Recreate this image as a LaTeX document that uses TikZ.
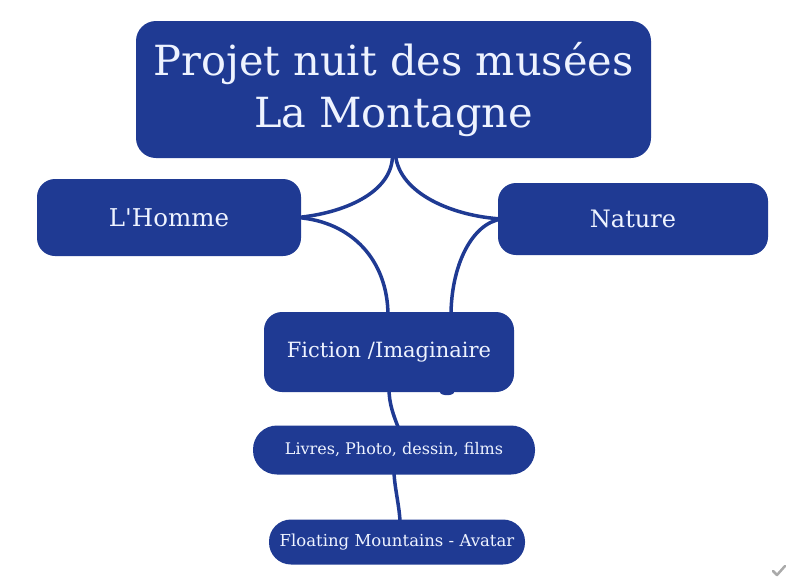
\documentclass[tikz,border=0pt]{standalone}
\usepackage{fontspec}
\setmainfont{DejaVu Serif}
\usetikzlibrary{calc,backgrounds}
\definecolor{boxblue}{RGB}{31,58,147}
\definecolor{boxtext}{RGB}{238,243,255}
\definecolor{checkgray}{RGB}{170,170,170}
\tikzset{
  box/.style={fill=boxblue, text=boxtext, inner sep=0pt, align=center, draw=none},
  conn/.style={draw=boxblue, line width=3.5pt, line cap=round}
}
\begin{document}
\begin{tikzpicture}[x=1pt,y=-1pt]
\useasboundingbox (0,0) rectangle (800,587);
\node[box, rounded corners=20pt, minimum width=515pt, minimum height=137pt,
  font=\fontsize{41.5}{52}\selectfont] (main) at (393.5,89.5) {Projet nuit des musées\\La Montagne};
\node[box, rounded corners=18pt, minimum width=264pt, minimum height=77pt,
  font=\fontsize{24.5}{28}\selectfont] (homme) at (169,217.5) {L{\addfontfeature{Ligatures=TeXOff}'}Homme};
\node[box, rounded corners=18pt, minimum width=270pt, minimum height=72pt,
  font=\fontsize{24}{28}\selectfont] (nature) at (633,219) {Nature};
\node[box, rounded corners=18pt, minimum width=250pt, minimum height=80pt,
  font=\fontsize{21}{24}\selectfont] (fiction) at (389,352) {Fiction /Imaginaire};
\node[box, rounded corners=24pt, minimum width=282pt, minimum height=49pt,
  font=\fontsize{16}{19}\selectfont] (livres) at (394,450) {Livres, Photo, dessin, films};
\node[box, rounded corners=22pt, minimum width=256pt, minimum height=45pt,
  font=\fontsize{16.5}{19}\selectfont] (floating) at (397,542) {Floating Mountains - Avatar};
\begin{scope}[on background layer]
\draw[conn] ([xshift=-1pt,yshift=3pt]main.south) .. controls +(0,38) and +(45,-4) .. ([xshift=-4pt]homme.east);
\draw[conn] ([xshift=2pt,yshift=3pt]main.south) .. controls +(4,38) and +(-50,-3) .. ([xshift=4pt]nature.west);
\draw[conn] ([xshift=-4pt]homme.east) .. controls +(55,4) and +(0,-55) .. ([xshift=-1pt,yshift=-4pt]fiction.north);
\draw[conn] ([xshift=4pt]nature.west) .. controls +(-30,4) and +(0,-50) .. ([xshift=62pt,yshift=-4pt]fiction.north);
\fill[boxblue] ([xshift=58pt]fiction.south) ellipse (7pt and 3pt);
\draw[conn] ([yshift=4pt]fiction.south) .. controls +(0,15) and +(-6,-15) .. ([xshift=5pt,yshift=-4pt]livres.north);
\draw[conn] ([yshift=4pt]livres.south) .. controls +(0,15) and +(0,-15) .. ([xshift=3pt,yshift=-4pt]floating.north);
\end{scope}
\draw[checkgray, line width=2.5pt, line cap=round, line join=round] (773,571) -- (777,575) -- (785,566);
\end{tikzpicture}
\end{document}
